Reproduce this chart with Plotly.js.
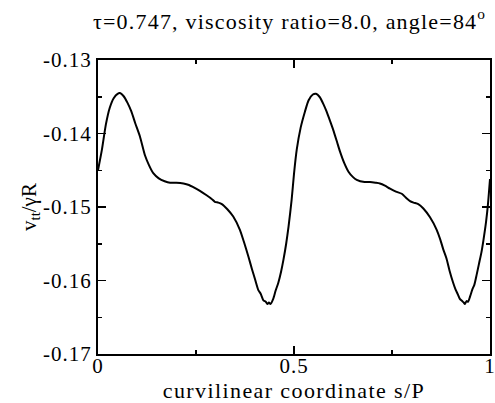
<!DOCTYPE html>
<html>
<head>
<meta charset="utf-8">
<script src="https://cdn.plot.ly/plotly-3.0.1.min.js"></script>
<style>
html,body{margin:0;padding:0;background:#fff;}
#chart{width:495px;height:403px;}
#chart .gtitle{letter-spacing:1.2px;}
#chart .xtitle{letter-spacing:1.4px;}
#chart .xtick text, #chart .ytick text{letter-spacing:1px;}
</style>
</head>
<body>
<div id="chart"></div>
<script>
var sCoord = [0, 0.01, 0.02, 0.03, 0.04, 0.05, 0.056, 0.065, 0.075, 0.085, 0.095, 0.107, 0.12, 0.13, 0.141, 0.155, 0.17, 0.184, 0.2, 0.218, 0.232, 0.243, 0.26, 0.277, 0.29, 0.298, 0.307, 0.316, 0.33, 0.345, 0.362, 0.372, 0.384, 0.393, 0.401, 0.409, 0.415, 0.422, 0.428, 0.432, 0.436, 0.44, 0.447, 0.453, 0.46, 0.467, 0.473, 0.48, 0.486, 0.494,
  0.5, 0.507, 0.517, 0.528, 0.537, 0.548, 0.556, 0.565, 0.575, 0.583, 0.592, 0.6, 0.61, 0.617, 0.628, 0.639, 0.65, 0.66, 0.68, 0.694, 0.708, 0.719, 0.732, 0.745, 0.76, 0.775, 0.787, 0.796, 0.805, 0.817, 0.83, 0.847, 0.864, 0.873, 0.881, 0.889, 0.897, 0.906, 0.912, 0.918, 0.923, 0.929, 0.933, 0.936, 0.94, 0.944, 0.949, 0.955, 0.96, 0.966, 0.972, 0.978, 0.983, 0.99, 0.995, 1.0];
var vtt = [-0.1450, -0.1422, -0.1388, -0.1365, -0.1352, -0.1346, -0.1345, -0.1349, -0.1358, -0.1370, -0.1386, -0.1404, -0.1430, -0.1443, -0.1454, -0.1461, -0.1465, -0.1467, -0.1467, -0.1468, -0.1470, -0.1473, -0.1478, -0.1484, -0.1489, -0.1493, -0.1494, -0.1496, -0.1503, -0.1513, -0.1531, -0.1547, -0.1568, -0.1585, -0.1599, -0.1613, -0.1618, -0.1627, -0.1629, -0.1632, -0.1630, -0.1632, -0.1625, -0.1614, -0.1603, -0.1588, -0.1572, -0.1550, -0.1527, -0.1490,
  -0.1455, -0.1422, -0.1392, -0.1370, -0.1355, -0.1347, -0.1346, -0.1350, -0.1360, -0.1370, -0.1383, -0.1395, -0.1412, -0.1424, -0.1440, -0.1452, -0.1459, -0.1463, -0.1466, -0.1466, -0.1467, -0.1468, -0.1471, -0.1475, -0.1479, -0.1482, -0.1488, -0.1492, -0.1494, -0.1496, -0.1502, -0.1514, -0.1531, -0.1544, -0.1558, -0.1570, -0.1587, -0.1603, -0.1612, -0.1619, -0.1625, -0.1628, -0.1630, -0.1632, -0.1628, -0.1629, -0.1622, -0.1612, -0.1606, -0.1592, -0.1577, -0.1562, -0.1546, -0.1520, -0.1495, -0.1462];

var xTickVals = [0, 0.5, 1];
var xTickText = ["0", "0.5", "1"];
var yTickVals = [-0.17, -0.16, -0.15, -0.14, -0.13];
var yTickText = ["-0.17", "-0.16", "-0.15", "-0.14", "-0.13"];

var font = "Liberation Serif, Times New Roman, serif";

var trace = {
  x: sCoord, y: vtt, type: "scatter", mode: "lines",
  line: {color: "#000", width: 2, shape: "spline", smoothing: 0.6},
  hoverinfo: "none"
};

var axisCommon = {
  showgrid: false, zeroline: false,
  showline: true, linecolor: "#000", linewidth: 2, mirror: "allticks",
  ticks: "inside", ticklen: 8, tickwidth: 1.5, tickcolor: "#000",
  ticklabeloverflow: "allow",
  tickfont: {family: font, size: 21, color: "#000"}
};

var layout = {
  width: 495, height: 403,
  margin: {l: 98, r: 5, t: 60, b: 49},
  paper_bgcolor: "#fff", plot_bgcolor: "#fff",
  showlegend: false,
  title: {text: "τ=0.747, viscosity ratio=8.0, angle=84<sup>o</sup>", font: {family: font, size: 22, color: "#000"}, x: 0.585, xanchor: "center", xref: "container", yref: "container", y: 0.948, yanchor: "middle"},
  xaxis: Object.assign({}, axisCommon, {
    range: [0, 1], tickmode: "array", tickvals: xTickVals, ticktext: xTickText,
    ticklabelstandoff: -8,
    minor: {dtick: 0.25, ticks: "inside", ticklen: 4, tickwidth: 1.5, tickcolor: "#000"},
    title: {text: "curvilinear coordinate s/P", font: {family: font, size: 22, color: "#000"}, standoff: 0}
  }),
  yaxis: Object.assign({}, axisCommon, {
    range: [-0.17, -0.13], tickmode: "array", tickvals: yTickVals, ticktext: yTickText,
    minor: {dtick: 0.005, tick0: -0.17, ticks: "inside", ticklen: 4, tickwidth: 1.5, tickcolor: "#000"},
    title: {text: "v<sub>tt</sub>/γR", font: {family: font, size: 21, color: "#000"}, standoff: 6}
  })
};

Plotly.newPlot("chart", [trace], layout, {staticPlot: true, displayModeBar: false});
</script>
</body>
</html>
